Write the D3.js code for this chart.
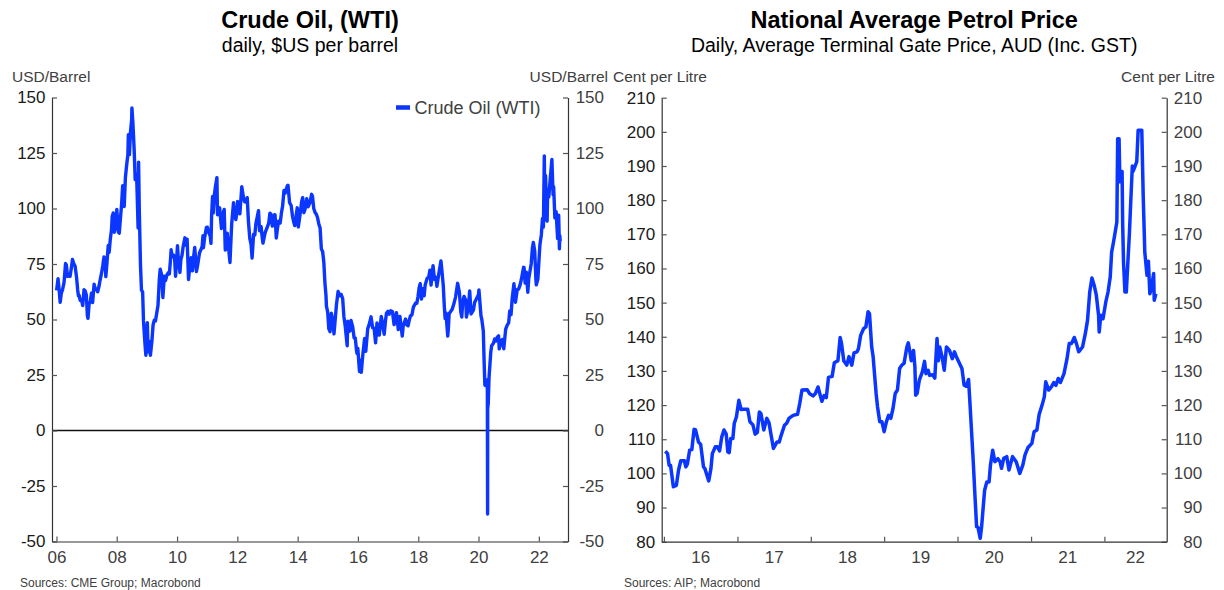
<!DOCTYPE html>
<html>
<head>
<meta charset="utf-8">
<script src="https://cdn.jsdelivr.net/npm/d3@7"></script>
<style>
  body { margin: 0; background: #fff; }
  svg { display: block; font-family: "Liberation Sans", Arial, sans-serif; }
</style>
</head>
<body>
<svg id="root" width="1224" height="590"></svg>
<script>

// ---- data: WTI crude, USD/barrel (sampled from the daily series) ----
const oilDates = [
  '2006-01-03','2006-01-20','2006-02-01','2006-02-15','2006-03-01','2006-03-15','2006-04-03','2006-04-21','2006-05-01','2006-05-15','2006-06-01','2006-06-15','2006-07-03','2006-07-14','2006-08-01','2006-08-15','2006-09-01','2006-09-15','2006-09-25','2006-10-02','2006-10-16','2006-11-01','2006-11-15','2006-12-01','2006-12-15','2006-12-29',
  '2007-01-10','2007-01-18','2007-02-01','2007-02-15','2007-03-01','2007-03-15','2007-04-02','2007-04-16','2007-05-01','2007-05-15','2007-06-01','2007-06-15','2007-07-02','2007-07-16','2007-07-31','2007-08-15','2007-08-22','2007-09-04','2007-09-20','2007-10-01','2007-10-15','2007-10-30','2007-11-07','2007-11-20','2007-12-03','2007-12-14','2007-12-31',
  '2008-01-02','2008-01-22','2008-02-01','2008-02-15','2008-02-29','2008-03-13','2008-03-20','2008-04-01','2008-04-15','2008-04-28','2008-05-15','2008-05-21','2008-06-03','2008-06-16','2008-06-30','2008-07-03','2008-07-15','2008-07-30','2008-08-12','2008-08-29','2008-09-16','2008-09-22','2008-10-01','2008-10-15','2008-10-27','2008-11-10','2008-11-20','2008-12-05','2008-12-19','2008-12-31',
  '2009-01-06','2009-01-15','2009-02-02','2009-02-12','2009-03-02','2009-03-16','2009-03-31','2009-04-15','2009-05-01','2009-05-15','2009-06-01','2009-06-11','2009-06-30','2009-07-13','2009-07-31','2009-08-14','2009-08-31','2009-09-15','2009-09-30','2009-10-15','2009-10-21','2009-11-02','2009-11-16','2009-12-01','2009-12-14','2009-12-31',
  '2010-01-06','2010-01-15','2010-02-05','2010-02-16','2010-03-01','2010-03-16','2010-04-06','2010-04-20','2010-05-03','2010-05-20','2010-06-01','2010-06-21','2010-07-06','2010-07-23','2010-08-03','2010-08-24','2010-09-08','2010-09-30','2010-10-15','2010-11-01','2010-11-11','2010-11-16','2010-12-01','2010-12-23',
  '2011-01-03','2011-01-21','2011-02-07','2011-02-16','2011-02-24','2011-03-07','2011-03-16','2011-03-31','2011-04-11','2011-04-29','2011-05-06','2011-05-16','2011-06-01','2011-06-23','2011-07-05','2011-07-26','2011-08-08','2011-08-19','2011-09-01','2011-09-23','2011-10-04','2011-10-25','2011-11-16','2011-11-28','2011-12-14','2011-12-30',
  '2012-01-04','2012-01-20','2012-02-01','2012-02-24','2012-03-15','2012-03-30','2012-04-16','2012-04-30','2012-05-15','2012-05-31','2012-06-15','2012-06-28','2012-07-16','2012-07-31','2012-08-14','2012-08-31','2012-09-14','2012-09-26','2012-10-15','2012-10-31','2012-11-07','2012-11-20','2012-12-03','2012-12-31',
  '2013-01-15','2013-01-30','2013-02-14','2013-02-28','2013-03-15','2013-03-28','2013-04-02','2013-04-17','2013-05-01','2013-05-15','2013-06-03','2013-06-19','2013-07-03','2013-07-19','2013-08-02','2013-08-28','2013-09-06','2013-09-25','2013-10-15','2013-10-31','2013-11-15','2013-11-27','2013-12-13','2013-12-27',
  '2014-01-09','2014-01-31','2014-02-19','2014-03-03','2014-03-17','2014-04-01','2014-04-21','2014-05-07','2014-05-30','2014-06-19','2014-06-30','2014-07-15','2014-07-31','2014-08-15','2014-08-29','2014-09-15','2014-09-30','2014-10-15','2014-10-31','2014-11-14','2014-11-28','2014-12-10','2014-12-16','2014-12-31',
  '2015-01-13','2015-01-28','2015-02-13','2015-03-02','2015-03-17','2015-04-01','2015-04-16','2015-05-06','2015-05-21','2015-06-10','2015-06-30','2015-07-15','2015-07-31','2015-08-24','2015-08-31','2015-09-15','2015-09-30','2015-10-09','2015-10-30','2015-11-16','2015-11-30','2015-12-14','2015-12-21','2015-12-31',
  '2016-01-07','2016-01-20','2016-02-01','2016-02-11','2016-03-01','2016-03-22','2016-04-05','2016-04-29','2016-05-16','2016-06-08','2016-06-27','2016-07-15','2016-08-02','2016-08-19','2016-09-01','2016-09-16','2016-10-10','2016-10-31','2016-11-14','2016-11-30','2016-12-12','2016-12-30',
  '2017-01-13','2017-02-01','2017-02-22','2017-03-14','2017-03-31','2017-04-12','2017-05-04','2017-05-24','2017-06-21','2017-07-03','2017-07-31','2017-08-15','2017-08-31','2017-09-15','2017-09-29','2017-10-16','2017-11-03','2017-11-30','2017-12-15','2017-12-29',
  '2018-01-12','2018-01-25','2018-02-09','2018-02-26','2018-03-13','2018-03-26','2018-04-18','2018-05-08','2018-05-22','2018-06-05','2018-06-29','2018-07-16','2018-08-02','2018-08-15','2018-09-04','2018-10-03','2018-10-15','2018-10-31','2018-11-13','2018-11-23','2018-12-03','2018-12-24','2018-12-31',
  '2019-01-10','2019-01-31','2019-02-14','2019-03-05','2019-03-29','2019-04-23','2019-05-15','2019-05-31','2019-06-12','2019-06-24','2019-07-10','2019-07-31','2019-08-07','2019-08-30','2019-09-16','2019-10-03','2019-10-31','2019-11-15','2019-12-06','2019-12-31',
  '2020-01-06','2020-01-31','2020-02-10','2020-02-28','2020-03-09','2020-03-18','2020-03-31','2020-04-09','2020-04-17','2020-04-20','2020-04-21','2020-04-28','2020-05-07','2020-05-29','2020-06-08','2020-06-30','2020-07-15','2020-07-31','2020-08-15','2020-08-31','2020-09-08','2020-09-30','2020-10-15','2020-11-02','2020-11-25','2020-12-15','2020-12-31',
  '2021-01-13','2021-01-29','2021-02-12','2021-03-05','2021-03-23','2021-04-15','2021-04-30','2021-05-18','2021-06-01','2021-06-30','2021-07-06','2021-07-19','2021-08-02','2021-08-20','2021-09-01','2021-09-30','2021-10-15','2021-10-26','2021-11-12','2021-11-26','2021-12-01','2021-12-20','2021-12-31',
  '2022-01-14','2022-01-31','2022-02-14','2022-02-25','2022-03-08','2022-03-16','2022-03-23','2022-04-11','2022-04-18','2022-05-02','2022-05-17','2022-06-08','2022-06-22','2022-06-29','2022-07-14','2022-07-29','2022-08-16','2022-08-29','2022-09-07','2022-09-12','2022-09-16'
];
const oilValues = [
  63.1,68.4,64.0,57.7,61.9,63.3,66.7,75.2,74.6,69.4,70.3,69.5,73.9,77.0,74.9,74.0,69.2,63.3,60.6,61.0,58.6,58.7,56.3,63.4,62.9,61.1,
  51.9,50.5,57.3,58.0,61.8,57.6,65.9,63.6,63.7,62.5,65.1,68.0,71.1,74.2,78.2,75.4,69.3,75.1,83.3,80.2,86.1,90.4,96.4,98.0,89.3,91.3,96.0,
  99.6,89.3,88.9,95.5,101.8,110.3,101.8,100.9,113.8,118.8,124.1,133.2,124.3,134.6,140.0,145.3,138.7,126.8,113.0,115.5,91.2,120.9,98.5,74.5,63.2,62.4,49.6,40.8,33.9,44.6,
  48.6,35.4,40.1,33.9,40.2,47.4,49.7,49.4,53.2,56.3,68.6,72.7,69.9,59.9,69.5,67.5,70.0,71.0,70.5,77.6,81.4,78.2,79.1,78.4,69.5,79.4,
  83.2,78.0,71.2,77.0,78.7,82.9,86.8,83.4,86.2,68.0,72.6,77.8,71.9,79.0,82.5,71.6,74.7,80.0,81.3,82.9,87.8,82.3,86.8,91.5,
  91.6,89.1,87.5,84.3,97.3,105.4,98.0,106.7,109.9,113.9,97.2,97.4,100.3,91.0,96.9,99.6,81.3,82.3,88.9,79.9,75.7,93.2,102.6,98.2,95.0,98.8,
  103.2,98.5,97.6,109.8,105.1,103.0,102.9,104.9,94.0,86.5,84.0,77.7,88.4,88.1,93.4,96.5,99.0,90.0,91.9,86.2,84.4,86.8,89.1,91.8,
  93.3,97.9,97.3,92.1,93.5,97.2,97.2,86.7,91.0,94.3,93.5,98.2,101.2,108.1,106.9,110.1,110.5,102.7,101.2,96.4,93.8,92.3,96.6,100.3,
  91.7,97.5,103.3,104.9,98.1,99.7,104.4,100.8,102.7,106.4,105.4,100.0,98.2,97.4,96.0,92.9,91.2,81.8,80.5,75.8,66.2,60.9,55.9,53.3,
  45.9,44.5,52.8,49.6,43.5,50.1,56.7,62.6,60.7,61.4,59.5,51.4,47.1,38.2,49.2,44.6,45.1,49.6,46.6,41.7,41.7,36.3,34.7,37.0,
  33.3,26.6,31.6,26.2,34.4,41.5,35.7,45.9,47.7,51.2,46.3,46.0,39.5,48.5,43.2,43.0,51.4,46.9,43.3,49.4,52.8,53.7,
  52.4,53.9,53.6,47.7,50.6,53.1,45.5,51.4,42.5,47.1,50.2,47.6,47.2,49.9,51.7,52.0,55.6,57.4,57.3,60.4,
  64.3,66.1,59.2,63.9,60.7,65.6,68.5,69.1,72.2,65.5,74.2,68.1,69.0,65.0,69.9,76.4,71.8,65.3,55.7,50.4,53.0,42.5,45.4,
  52.6,53.8,54.4,56.6,60.1,66.3,62.0,53.5,51.1,57.9,60.4,58.6,51.1,55.1,62.9,52.5,54.2,57.7,59.2,61.1,
  63.3,51.6,50.0,44.8,31.1,20.4,20.5,22.8,18.3,-37.6,10.0,12.3,23.6,35.5,38.2,39.3,41.2,40.3,42.0,42.6,36.8,40.2,41.0,36.8,45.7,47.6,48.5,
  53.9,52.2,59.5,66.1,57.8,63.5,63.6,65.5,67.7,73.5,73.4,66.4,71.3,62.3,68.6,75.0,82.3,84.7,80.8,68.2,65.6,68.2,75.2,
  83.8,88.2,95.5,91.6,123.7,95.0,114.9,94.3,108.2,105.2,112.4,122.1,106.2,109.8,95.8,98.6,86.5,97.0,81.9,87.8,85.1
];
const oilTicksY = [-50, -25, 0, 25, 50, 75, 100, 125, 150];
const oilTickYears = [2006, 2008, 2010, 2012, 2014, 2016, 2018, 2020, 2022];

// ---- data: national average terminal gate petrol price, cents/litre (decimal years) ----
const petrolYears = [
  2016.02,2016.05,2016.07,2016.09,2016.13,2016.17,2016.20,2016.23,2016.28,2016.30,2016.32,2016.35,2016.38,2016.41,2016.43,2016.47,2016.50,2016.54,2016.56,2016.61,2016.64,2016.66,2016.70,2016.73,2016.76,2016.79,2016.82,2016.85,2016.87,2016.89,2016.91,2016.94,2016.96,2016.99,
  2017.02,2017.05,2017.08,2017.14,2017.17,2017.21,2017.24,2017.27,2017.30,2017.32,2017.36,2017.40,2017.43,2017.49,2017.54,2017.57,2017.59,2017.64,2017.67,2017.70,2017.76,2017.82,2017.85,2017.88,2017.95,2017.98,
  2018.03,2018.06,2018.10,2018.15,2018.18,2018.21,2018.24,2018.29,2018.32,2018.37,2018.40,2018.42,2018.45,2018.49,2018.52,2018.56,2018.59,2018.63,2018.65,2018.68,2018.72,2018.75,2018.78,2018.80,2018.83,2018.85,2018.89,2018.91,2018.94,2018.97,
  2019.00,2019.03,2019.06,2019.09,2019.12,2019.15,2019.18,2019.21,2019.24,2019.27,2019.31,2019.33,2019.35,2019.37,2019.40,2019.42,2019.43,2019.45,2019.48,2019.52,2019.55,2019.57,2019.60,2019.62,2019.66,2019.69,2019.72,2019.74,2019.76,2019.79,2019.82,2019.85,2019.89,2019.93,2019.96,2019.99,
  2020.06,2020.09,2020.12,2020.15,2020.17,2020.21,2020.24,2020.26,2020.28,2020.31,2020.33,2020.35,2020.37,2020.40,2020.43,2020.45,2020.48,2020.51,2020.55,2020.58,2020.60,2020.63,2020.67,2020.70,2020.75,2020.80,2020.85,2020.89,2020.92,2020.96,
  2021.01,2021.04,2021.08,2021.11,2021.15,2021.18,2021.20,2021.24,2021.28,2021.31,2021.34,2021.37,2021.40,2021.45,2021.49,2021.52,2021.55,2021.59,2021.62,2021.65,2021.70,2021.74,2021.77,2021.80,2021.83,2021.86,2021.89,2021.92,2021.93,2021.95,2021.98,
  2022.02,2022.05,2022.08,2022.10,2022.12,2022.14,2022.17,2022.18,2022.20,2022.21,2022.24,2022.25,2022.26,2022.28,2022.30,2022.32,2022.34,2022.36,2022.38,2022.39,2022.42,2022.44,2022.46,2022.51,2022.53,2022.55,2022.58,2022.60,2022.62,2022.64,2022.67,2022.68,2022.70
];
const petrolValues = [
  106.5,105.8,102.4,102.4,96.1,96.5,101,103.7,103.7,101.9,102.8,106.8,107,112.9,112.8,109.2,108.5,101.9,101.4,97.8,101.4,105.8,107.8,107.8,106.6,110.7,112.7,111.5,106.3,106.1,110.2,110.2,114.6,116.6,
  121.4,118.7,118.8,118.8,115.1,114.2,111.5,112,118,117.5,112.7,116.1,114.8,107.3,109.2,109.2,110.7,114.1,114.7,116.1,117,117.3,120.5,124.4,124.5,123.4,
  122.7,123.3,125.3,121.1,122.8,122.2,128.1,128.4,132.4,133,139.8,138,133,131.7,134.2,131.7,135.3,135.6,136.5,140.4,142.4,142.9,147.3,146.8,137,134.2,123.4,119.5,115.1,115.1,
  112.2,115.1,117,116.1,119,123.4,124.4,130.7,131.7,132.2,137,138.2,135.6,133,136,131.2,122.9,123.4,127.3,129.7,132.8,129.2,130.2,128.7,128.9,127.9,139.5,133,137,134.2,130.2,137,136,133.6,135.6,133.9,
  130.7,125.8,125.5,127.5,120.5,104.9,92.2,84.4,84.2,81,84.4,90.2,95.1,97.5,97.5,102.4,106.8,103.4,104.3,103.4,101.5,104.4,104.9,101,104.9,103.4,100,102.4,105.4,107.5,
  108.8,112.2,112.7,117.2,120,122.4,126.8,124.4,125.4,126.6,125.8,127.8,126.6,129.2,133.6,138,138,139.8,138,135.6,137,140.9,144.8,153.1,157.2,155.1,152.1,146.3,141.4,146.3,145.3,
  150.2,153.1,157.5,164.8,167.3,169.7,173.6,198,198,185.4,188.4,172.8,162.1,153.1,153.1,162.1,169.7,179.4,190,188.4,190,191.3,200.5,200.5,181.4,164.8,158,162.1,152.6,154.1,158.5,150.7,152.6
];
const petrolTicksY = [80, 90, 100, 110, 120, 130, 140, 150, 160, 170, 180, 190, 200, 210];
const petrolTickYears = [2016, 2017, 2018, 2019, 2020, 2021, 2022];

if (oilDates.length !== oilValues.length) console.error('oil length mismatch', oilDates.length, oilValues.length);
if (petrolYears.length !== petrolValues.length) console.error('petrol length mismatch', petrolYears.length, petrolValues.length);

const root = d3.select('#root');
const lineColor = '#0a36ff';
const darkText = '#1a1a1a';
const greyText = '#404040';
const parseDate = d3.timeParse('%Y-%m-%d');
const fromDecimal = t => {
  const yr = Math.floor(t);
  return new Date(yr, 0, 1 + Math.round((t - yr) * 365));
};

const styleAxis = (g, textColor) => {
  g.select('.domain').attr('stroke', '#333').attr('stroke-width', 1.2);
  g.selectAll('.tick line').attr('stroke', '#555').attr('stroke-width', 1.2);
  g.selectAll('.tick text').attr('fill', textColor).attr('font-size', 17);
};

const drawLine = (g, pts, x, y, width) => {
  g.append('path')
    .datum(pts)
    .attr('fill', 'none')
    .attr('stroke', lineColor)
    .attr('stroke-width', width)
    .attr('stroke-linejoin', 'round')
    .attr('d', d3.line().x(d => x(d[0])).y(d => y(d[1])));
};

const titleBlock = (cx, title, subtitle) => {
  root.append('text').attr('x', cx).attr('y', 28).attr('text-anchor', 'middle')
    .attr('font-size', 23.5).attr('font-weight', 'bold').attr('fill', '#000').text(title);
  root.append('text').attr('x', cx).attr('y', 52).attr('text-anchor', 'middle')
    .attr('font-size', 19.5).attr('fill', '#000').text(subtitle);
};

// ================= left chart: crude oil =================
const oil = { left: 52, right: 568, top: 97.5, bottom: 541.5 };
const oilX = d3.scaleTime()
  .domain([new Date(2005, 10, 8), new Date(2022, 11, 20)])
  .range([oil.left, oil.right]);
const oilY = d3.scaleLinear().domain([-50, 150]).range([oil.bottom, oil.top]);

titleBlock((oil.left + oil.right) / 2, 'Crude Oil, (WTI)', 'daily, $US per barrel');

root.append('text').attr('x', 12).attr('y', 82).attr('font-size', 15.5).attr('fill', greyText).text('USD/Barrel');
root.append('text').attr('x', 608).attr('y', 82).attr('text-anchor', 'end').attr('font-size', 15.5).attr('fill', greyText).text('USD/Barrel');

root.append('line')
  .attr('x1', oil.left).attr('x2', oil.right)
  .attr('y1', oilY(0)).attr('y2', oilY(0))
  .attr('stroke', '#111').attr('stroke-width', 1.3);

root.append('g').attr('transform', `translate(${oil.left},0)`)
  .call(d3.axisLeft(oilY).tickValues(oilTicksY).tickFormat(d => String(d)).tickSize(-5).tickSizeOuter(0).tickPadding(6.5))
  .call(g => styleAxis(g, darkText));

root.append('g').attr('transform', `translate(${oil.right},0)`)
  .call(d3.axisRight(oilY).tickValues(oilTicksY).tickFormat(d => String(d)).tickSize(-5).tickSizeOuter(0))
  .call(g => styleAxis(g, greyText))
  .call(g => g.selectAll('.tick text').attr('text-anchor', 'end').attr('x', 36));

root.append('g').attr('transform', `translate(0,${oil.bottom})`)
  .call(d3.axisBottom(oilX).tickValues(oilTickYears.map(y => new Date(y, 0, 1)))
    .tickFormat(d3.timeFormat('%y')).tickSize(-5).tickSizeOuter(0).tickPadding(9.5))
  .call(g => styleAxis(g, greyText));

drawLine(root.append('g'), oilDates.map((d, i) => [parseDate(d), oilValues[i]]), oilX, oilY, 3.4);

// legend
const legend = root.append('g');
legend.append('line').attr('x1', 396).attr('x2', 410).attr('y1', 107.5).attr('y2', 107.5)
  .attr('stroke', lineColor).attr('stroke-width', 4.5);
legend.append('text').attr('x', 414.5).attr('y', 114).attr('font-size', 18).attr('fill', greyText).text('Crude Oil (WTI)');

root.append('text').attr('x', 20).attr('y', 587).attr('font-size', 12).attr('fill', greyText).text('Sources: CME Group; Macrobond');

// ================= right chart: petrol =================
const pet = { left: 661.7, right: 1166.7, top: 97.7, bottom: 541.7 };
const petX = d3.scaleTime()
  .domain([fromDecimal(2015.971), fromDecimal(2022.848)])
  .range([pet.left, pet.right]);
const petY = d3.scaleLinear().domain([80, 210]).range([pet.bottom, pet.top]);

titleBlock((pet.left + pet.right) / 2, 'National Average Petrol Price', 'Daily, Average Terminal Gate Price, AUD (Inc. GST)');

root.append('text').attr('x', 613).attr('y', 82).attr('font-size', 15.5).attr('fill', greyText).text('Cent per Litre');
root.append('text').attr('x', 1215).attr('y', 82).attr('text-anchor', 'end').attr('font-size', 15.5).attr('fill', greyText).text('Cent per Litre');

root.append('g').attr('transform', `translate(${pet.left},0)`)
  .call(d3.axisLeft(petY).tickValues(petrolTicksY).tickSize(-5).tickSizeOuter(0).tickPadding(6.5))
  .call(g => styleAxis(g, darkText));

root.append('g').attr('transform', `translate(${pet.right},0)`)
  .call(d3.axisRight(petY).tickValues(petrolTicksY).tickSize(-5).tickSizeOuter(0))
  .call(g => styleAxis(g, greyText))
  .call(g => g.selectAll('.tick text').attr('text-anchor', 'end').attr('x', 35.5));

root.append('g').attr('transform', `translate(0,${pet.bottom})`)
  .call(d3.axisBottom(petX).tickValues(petrolTickYears.map(y => new Date(y, 0, 1)))
    .tickFormat('').tickSize(-5).tickSizeOuter(0))
  .call(g => styleAxis(g, greyText));

// year labels sit in the middle of the visible part of each year
const [domStart, domEnd] = petX.domain();
root.append('g').selectAll('text')
  .data(petrolTickYears)
  .join('text')
  .attr('x', y => {
    const a = Math.max(+new Date(y, 0, 1), +domStart);
    const b = Math.min(+new Date(y + 1, 0, 1), +domEnd);
    return (petX(a) + petX(b)) / 2;
  })
  .attr('y', 563)
  .attr('text-anchor', 'middle')
  .attr('font-size', 17)
  .attr('fill', greyText)
  .text(y => String(y).slice(2));

drawLine(root.append('g'), petrolYears.map((t, i) => [fromDecimal(t), petrolValues[i]]), petX, petY, 3.5);

root.append('text').attr('x', 624).attr('y', 587).attr('font-size', 12).attr('fill', greyText).text('Sources: AIP; Macrobond');

</script>
</body>
</html>
